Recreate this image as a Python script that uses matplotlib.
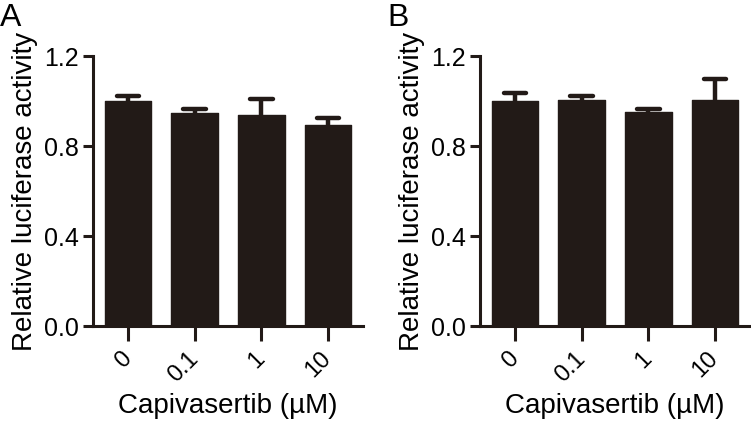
import matplotlib
matplotlib.use("Agg")
import matplotlib.pyplot as plt
import matplotlib.transforms as mtransforms
import numpy as np

plt.rcParams['font.family'] = ['Liberation Sans', 'DejaVu Sans']

categories = ["0", "0.1", "1", "10"]
means_A = [1.00, 0.945, 0.936, 0.892]
upper_A = [1.024, 0.966, 1.007, 0.923]
means_B = [1.00, 1.004, 0.951, 1.004]
upper_B = [1.034, 1.022, 0.963, 1.098]
yticks = [0.0, 0.4, 0.8, 1.2]
ytick_labels = ["0.0", "0.4", "0.8", "1.2"]
panel_labels = ["A", "B"]

color = "#221a17"
W, H = 751, 429
fig = plt.figure(figsize=(W / 100, H / 100), dpi=100)

def make_panel(left_px, means, upper, label):
    ax = fig.add_axes([left_px / W, (H - 326) / H, 270 / W, 270 / H])
    x = np.arange(len(categories))
    ax.bar(x, means, width=0.7, color=color, edgecolor=color, linewidth=1.0,
           joinstyle='round', zorder=2)
    ax.vlines(x, means, upper, color=color, linewidth=3.2, zorder=3)
    ax.hlines(upper, x - 0.17, x + 0.17, color=color, linewidth=3.2,
              capstyle='round', zorder=3)
    ax.set_xlim(-0.525, len(categories) - 1 + 0.525)
    ax.set_ylim(0, 1.2)
    ax.set_yticks(yticks)
    ax.set_yticklabels(ytick_labels)
    ax.set_xticks(x)
    ax.set_xticklabels(categories, rotation=45, ha='right', va='center',
                       rotation_mode='anchor')
    offset = mtransforms.ScaledTranslation(4 / 100, 0, fig.dpi_scale_trans)
    for t in ax.get_xticklabels():
        t.set_transform(t.get_transform() + offset)
    for s in ['top', 'right']:
        ax.spines[s].set_visible(False)
    for s in ['left', 'bottom']:
        ax.spines[s].set_linewidth(2.2)
        ax.spines[s].set_color(color)
        ax.spines[s].set_capstyle('projecting')
    ax.tick_params(axis='y', length=7, width=2.2, color=color, labelsize=18,
                   pad=3.5)
    ax.tick_params(axis='x', length=11, width=2.2, color=color, labelsize=17,
                   pad=10)
    ax.set_ylabel("Relative luciferase activity", fontsize=20, labelpad=4)
    ax.set_xlabel("Capivasertib (µM)", fontsize=20, labelpad=5)
    fig.text((left_px - 93 + 0) / W, 1 - 3 / H, label, fontsize=23,
             ha='left', va='top')
    return ax

make_panel(93, means_A, upper_A, panel_labels[0])
make_panel(480, means_B, upper_B, panel_labels[1])

fig.savefig("out.png", dpi=100)
